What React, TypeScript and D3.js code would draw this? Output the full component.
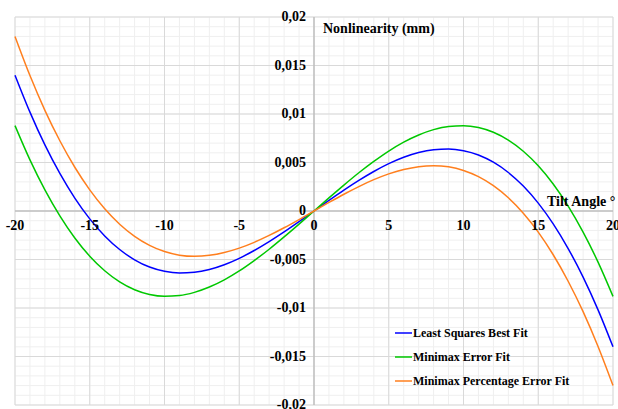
import React from "react";
import * as d3 from "d3";

const width = 618;
const height = 409;
const margin = { top: 17, right: 5, bottom: 4, left: 15 };

// tilt angle (degrees)
const angles = d3.range(-20, 21);

// nonlinearity values (mm) at 0..20 deg, curves are odd
const leastSquaresHalf = [0, 0.00109, 0.00215, 0.00315, 0.00407, 0.00488, 0.00554, 0.00603, 0.00632, 0.0064, 0.00622,
    0.00578, 0.00503, 0.00397, 0.00257, 0.00081, -0.00133, -0.00387, -0.00681, -0.01019, -0.014];
const minimaxHalf = [0, 0.00135, 0.00267, 0.00394, 0.00511, 0.00618, 0.0071, 0.00784, 0.00839, 0.00872, 0.0088,
    0.00861, 0.00812, 0.00731, 0.00616, 0.00466, 0.00278, 0.0005, -0.00218, -0.00527, -0.0088];
const minimaxPctHalf = [0, 0.00088, 0.00173, 0.00252, 0.00323, 0.00383, 0.00428, 0.00457, 0.00467, 0.00455, 0.00418,
    0.00354, 0.00261, 0.00136, -0.00023, -0.00218, -0.00451, -0.00724, -0.01038, -0.01397, -0.018];

const full = (half: number[]) => [...half.slice(1).reverse().map(v => -v), ...half];

const seriesNames = ["Least Squares Best Fit", "Minimax Error Fit", "Minimax Percentage Error Fit"];
const seriesColors = ["#0000ff", "#00c800", "#ff7f1e"];
const seriesValues = [full(leastSquaresHalf), full(minimaxHalf), full(minimaxPctHalf)];

const xTicks = [-20, -15, -10, -5, 0, 5, 10, 15, 20];
const yTicks = [-0.02, -0.015, -0.01, -0.005, 0, 0.005, 0.01, 0.015, 0.02];
const yTickLabels = ["-0,02", "-0,015", "-0,01", "-0,005", "0", "0,005", "0,01", "0,015", "0,02"];

const x = d3.scaleLinear().domain([-20, 20]).range([margin.left, width - margin.right]);
const y = d3.scaleLinear().domain([-0.02, 0.02]).range([height - margin.bottom, margin.top]);

const font = "'Liberation Serif', 'Times New Roman', serif";

export default function App() {
    const line = d3.line<number>()
        .x((d, i) => x(angles[i]))
        .y(d => y(d))
        .curve(d3.curveMonotoneX);

    const minorX = d3.range(-20, 21, 1);
    const minorY = d3.range(-20, 21, 1).map(v => v / 1000);

    return (
        <svg width={width} height={height} style={{ position: "absolute", left: 0, top: 0, background: "#fff" }}>
            <g>
                {minorX.map(v => (
                    <line key={"mx" + v} x1={x(v)} x2={x(v)} y1={y(0.02)} y2={y(-0.02)} stroke="#efefef" />
                ))}
                {minorY.map(v => (
                    <line key={"my" + v} x1={x(-20)} x2={x(20)} y1={y(v)} y2={y(v)} stroke="#efefef" />
                ))}
                {xTicks.map(v => (
                    <line key={"gx" + v} x1={x(v)} x2={x(v)} y1={y(0.02)} y2={y(-0.02)} stroke="#d9d9d9" />
                ))}
                {yTicks.map(v => (
                    <line key={"gy" + v} x1={x(-20)} x2={x(20)} y1={y(v)} y2={y(v)} stroke="#d9d9d9" />
                ))}
            </g>
            {/* axes cross at the origin */}
            <line x1={x(-20)} x2={x(20)} y1={y(0)} y2={y(0)} stroke="#b0b0b0" />
            <line x1={x(0)} x2={x(0)} y1={y(0.02)} y2={y(-0.02)} stroke="#b0b0b0" />

            {seriesValues.map((vals, i) => (
                <path key={i} d={line(vals) || ""} fill="none" stroke={seriesColors[i]} strokeWidth={1.5} />
            ))}

            <g fontFamily={font} fontWeight="bold" fontSize={14} fill="#000">
                {yTicks.map((v, i) => (
                    <text key={"yl" + v} x={x(0) - 8} y={y(v)} dy="0.3em" textAnchor="end">{yTickLabels[i]}</text>
                ))}
                {xTicks.map(v => (
                    <text key={"xl" + v} x={x(v)} y={y(0)} dy="1.35em" textAnchor="middle">{v}</text>
                ))}
                <text x={x(0) + 9} y={33}>Nonlinearity (mm)</text>
                <text x={547} y={206}>Tilt Angle °</text>
            </g>

            <g fontFamily={font} fontWeight="bold" fontSize={12}>
                {seriesNames.map((name, i) => (
                    <g key={name} transform={`translate(395,${333 + i * 24})`}>
                        <line x1={0} x2={17} y1={0} y2={0} stroke={seriesColors[i]} strokeWidth={1.5} />
                        <text x={18} y={0} dy="0.35em">{name}</text>
                    </g>
                ))}
            </g>
        </svg>
    );
}
